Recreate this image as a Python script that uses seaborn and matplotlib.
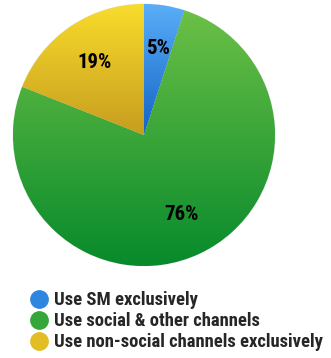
import numpy as np
import matplotlib
matplotlib.use("Agg")
import matplotlib.pyplot as plt
from matplotlib.colors import LinearSegmentedColormap
from matplotlib.lines import Line2D
from matplotlib import font_manager
import seaborn as sns

categories = ["Use SM exclusively", "Use social & other channels",
              "Use non-social channels exclusively"]
values = [5, 76, 19]
top_colors = ["#5aaef7", "#6cc046", "#f8dc2c"]
bottom_colors = ["#1363c6", "#078a2c", "#c79d1f"]
mid_colors = ["#2f86e0", "#35a63a", "#e2bd24"]

sns.set_theme(style="white")
names = {(f.name, f.weight) for f in font_manager.fontManager.ttflist}
fam = "Liberation Sans"
for cand in ["Roboto Condensed", "Asap Condensed", "Barlow Semi Condensed"]:
    if any(n == cand and w >= 600 for n, w in names):
        fam = cand
        break
plt.rcParams["font.family"] = [fam, "DejaVu Sans"]

W, H = 331, 358
fig = plt.figure(figsize=(W / 100, H / 100), dpi=100)

# pick size so the longest legend label spans ~270 px as in the reference
renderer = fig.canvas.get_renderer()
probe = fig.text(0, 0, categories[2], fontsize=10, fontweight="bold")
wpx = probe.get_window_extent(renderer).width
probe.remove()
fs = min(14.0, 10 * 270 / wpx)

cx, cy, r = 144, 135, 131
ax = fig.add_axes([(cx - r) / W, (H - cy - r) / H, 2 * r / W, 2 * r / H])

wedges, texts, autotexts = ax.pie(
    values, colors=mid_colors, startangle=90, counterclock=False,
    autopct=lambda p: f"{p:.0f}%", pctdistance=0.67,
    wedgeprops=dict(linewidth=0.6, edgecolor="#eaeaea"),
    textprops=dict(fontsize=fs * 1.12, fontweight="bold", color="black"))
ax.set_aspect("equal")
ax.axis("off")

grad = np.linspace(0, 1, 256).reshape(-1, 1)
for w, tc, bc in zip(wedges, top_colors, bottom_colors):
    path = w.get_path().transformed(w.get_patch_transform())
    ext = path.get_extents()
    cmap = LinearSegmentedColormap.from_list("g", [bc, tc])
    im = ax.imshow(grad, cmap=cmap, origin="lower", aspect="auto",
                   extent=[ext.x0, ext.x1, ext.y0, ext.y1], zorder=w.get_zorder() + 0.1)
    im.set_clip_path(w)
for t in autotexts:
    t.set_zorder(5)
ax.set_xlim(-1, 1)
ax.set_ylim(-1, 1)

handles = [Line2D([], [], marker="o", linestyle="none", markersize=12.5,
                  markerfacecolor=c, markeredgecolor=c) for c in mid_colors]
fig.legend(handles, categories, loc="upper left", bbox_to_anchor=(22 / W, 1 - 284 / H),
           frameon=False, handletextpad=0.3, labelspacing=0.16, borderaxespad=0,
           handlelength=1.0, prop=dict(size=fs, weight="bold"))

fig.savefig("out.png", dpi=100)
